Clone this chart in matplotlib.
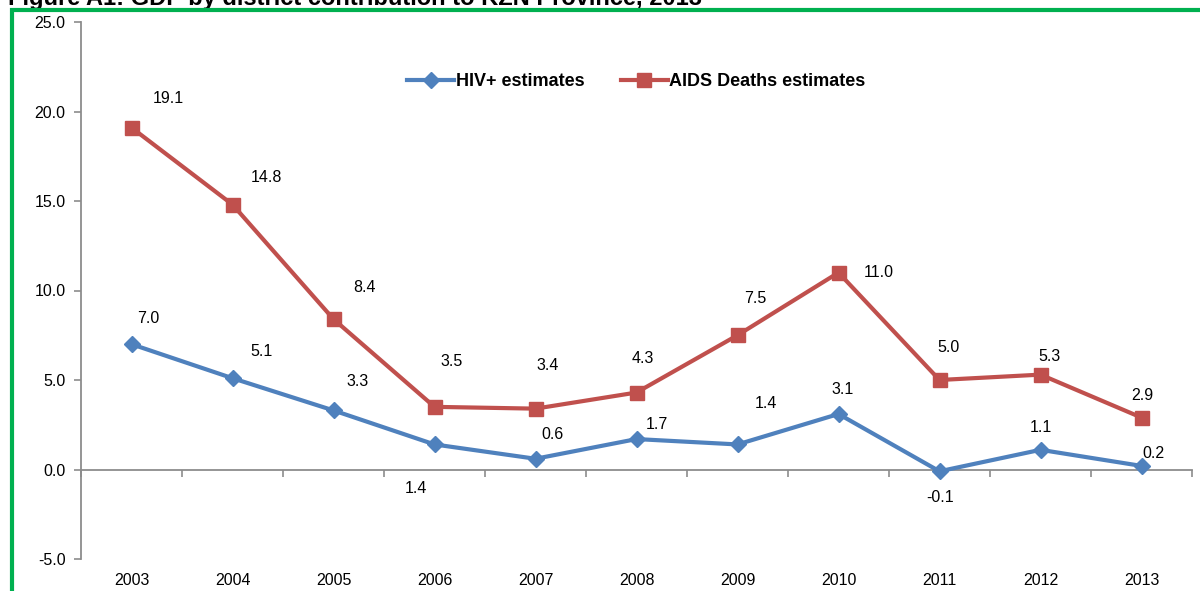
import matplotlib
matplotlib.use("Agg")
import matplotlib.pyplot as plt
import numpy as np
from matplotlib.patches import Rectangle

years = ["2003", "2004", "2005", "2006", "2007", "2008", "2009", "2010", "2011", "2012", "2013"]
hiv = [7.0, 5.1, 3.3, 1.4, 0.6, 1.7, 1.4, 3.1, -0.1, 1.1, 0.2]
aids = [19.1, 14.8, 8.4, 3.5, 3.4, 4.3, 7.5, 11.0, 5.0, 5.3, 2.9]
hiv_label = "HIV+ estimates"
aids_label = "AIDS Deaths estimates"
title = "Figure A1: GDP by district contribution to KZN Province, 2013"

# label offsets in pixels (dx, dy)
hiv_off = [(17, 26), (29, 27), (24, 29), (-19, -44), (17, 24), (20, 15), (28, 41), (4, 25), (1, -26), (0, 22), (12, 12)]
aids_off = [(37, 29), (34, 27), (31, 32), (17, 45), (12, 43), (6, 34), (18, 37), (40, 0), (9, 32), (9, 18), (1, 22)]

plt.rcParams['font.family'] = ['Liberation Sans', 'DejaVu Sans']
blue = "#4F81BD"
red = "#C0504D"
gray = "#8C8C8C"

fig = plt.figure(figsize=(12, 5.91), dpi=100)
ax = fig.add_axes([81/1200, 1 - 559/591, (1192 - 81)/1200, (559 - 22)/591])

x = np.arange(len(years))
ax.plot(x, hiv, color=blue, lw=3, marker="D", ms=8.5, label=hiv_label, zorder=3)
ax.plot(x, aids, color=red, lw=3, marker="s", ms=9.5, label=aids_label, zorder=3)

for i, v in enumerate(hiv):
    ax.annotate(f"{v:.1f}", (x[i], v), xytext=hiv_off[i], textcoords="offset pixels",
                ha="center", va="center", fontsize=11.5)
for i, v in enumerate(aids):
    ax.annotate(f"{v:.1f}", (x[i], v), xytext=aids_off[i], textcoords="offset pixels",
                ha="center", va="center", fontsize=11.5)

ax.set_xlim(-0.5, len(years) - 0.5)
ax.set_ylim(-5, 25)
ax.set_yticks(np.arange(-5, 26, 5))
ax.set_yticklabels([f"{v:.1f}" for v in np.arange(-5, 26, 5)], fontsize=11.5)
ax.tick_params(axis="y", length=5, color=gray, width=1.2, pad=6)

for s in ["top", "right"]:
    ax.spines[s].set_visible(False)
ax.spines["left"].set_color(gray)
ax.spines["left"].set_linewidth(1.3)
ax.spines["bottom"].set_position(("data", 0))
ax.spines["bottom"].set_color(gray)
ax.spines["bottom"].set_linewidth(1.3)

ax.set_xticks(np.arange(-0.5, len(years), 1.0))
ax.set_xticklabels([])
ax.tick_params(axis="x", length=5, color=gray, width=1.2, direction="out")

sec = ax.secondary_xaxis("bottom")
sec.set_xticks(x)
sec.set_xticklabels(years, fontsize=11.5)
sec.tick_params(length=0, pad=10)
sec.spines["bottom"].set_visible(False)

leg = ax.legend(loc="upper center", bbox_to_anchor=(0.5, 0.935), ncol=2, frameon=False,
                prop={"family": ["Liberation Sans Narrow", "Liberation Sans"], "weight": "bold", "size": 13},
                handlelength=2.6, columnspacing=2.0, handletextpad=0.1)

# green frame
fig.patches.append(Rectangle((12/1200, -0.1), 1.2, 1 - 10/591 + 0.1, transform=fig.transFigure,
                             fill=False, edgecolor="#00B050", lw=3, zorder=10))
fig.text(8/1200, 1 - 5/591, title, ha="left", va="baseline", fontsize=17, fontweight="bold")

fig.savefig("out.png", dpi=100)
